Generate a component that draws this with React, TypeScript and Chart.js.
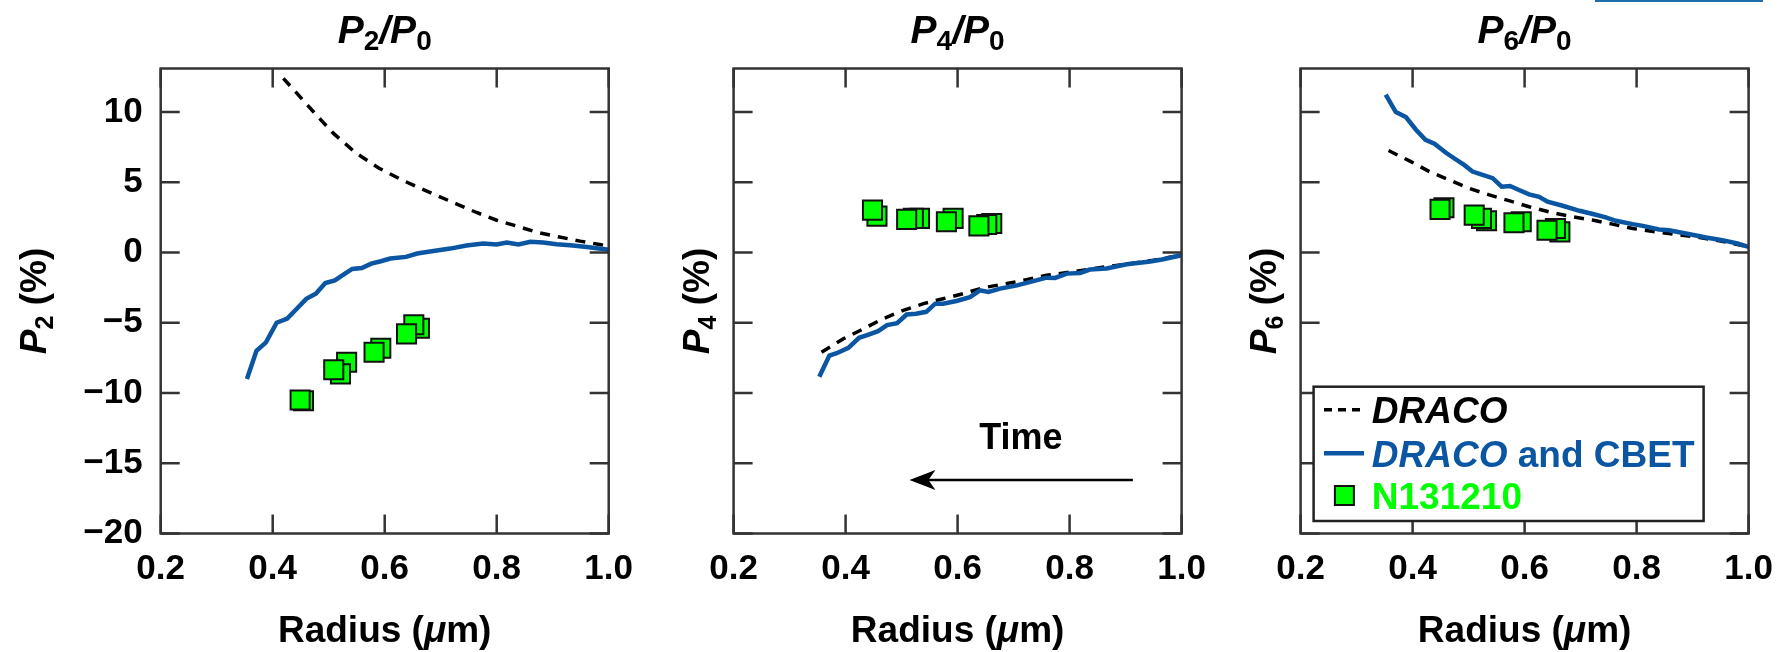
import React, { useEffect, useRef } from 'react';
import { Chart, registerables } from 'chart.js';

Chart.register(...registerables);

// ---------- axis ticks ----------
const xTickValues = [0.2, 0.4, 0.6, 0.8, 1.0];
const yTickValues = [-20, -15, -10, -5, 0, 5, 10];
const xMin = 0.2;
const xMax = 1.0;
const yMin = -20;
const yMax = 13.1;

// ---------- P2/P0 ----------
const p2DracoR = [0.419, 0.453, 0.48, 0.508, 0.549, 0.59, 0.631, 0.685, 0.733, 0.764, 0.8, 0.836, 0.874, 0.91, 0.949, 0.984, 1.0];
const p2DracoP = [12.4, 10.9, 9.7, 8.5, 7.07, 6.0, 5.16, 4.2, 3.38, 2.85, 2.3, 1.88, 1.42, 1.12, 0.81, 0.57, 0.45];
const p2CbetR = [0.354, 0.371, 0.388, 0.407, 0.426, 0.443, 0.46, 0.477, 0.494, 0.511, 0.527, 0.542, 0.559, 0.576, 0.593, 0.61, 0.638, 0.658, 0.681, 0.717, 0.746, 0.776, 0.8, 0.818, 0.839, 0.86, 0.883, 0.907, 0.931, 0.961, 1.0];
const p2CbetP = [-9.0, -7.0, -6.4, -5.0, -4.7, -4.0, -3.3, -2.93, -2.17, -1.98, -1.55, -1.17, -1.1, -0.79, -0.62, -0.43, -0.31, -0.07, 0.08, 0.28, 0.5, 0.64, 0.57, 0.71, 0.57, 0.76, 0.71, 0.59, 0.52, 0.4, 0.2];
const p2MeasR = [0.662, 0.652, 0.639, 0.593, 0.581, 0.532, 0.521, 0.509, 0.455, 0.449];
const p2MeasP = [-5.39, -5.14, -5.79, -6.81, -7.1, -7.81, -8.64, -8.34, -10.55, -10.5];

// ---------- P4/P0 ----------
const p4DracoR = [0.357, 0.396, 0.432, 0.467, 0.503, 0.539, 0.574, 0.61, 0.646, 0.688, 0.723, 0.759, 0.8, 0.836, 0.872, 0.91, 0.95, 1.0];
const p4DracoP = [-7.1, -6.14, -5.43, -4.71, -4.12, -3.64, -3.29, -2.93, -2.5, -2.21, -1.93, -1.62, -1.4, -1.18, -0.98, -0.78, -0.55, -0.19];
const p4CbetR = [0.353, 0.371, 0.384, 0.405, 0.424, 0.441, 0.458, 0.474, 0.492, 0.509, 0.526, 0.544, 0.56, 0.574, 0.598, 0.622, 0.64, 0.655, 0.676, 0.706, 0.735, 0.759, 0.774, 0.795, 0.819, 0.836, 0.866, 0.902, 0.944, 0.965, 1.0];
const p4CbetP = [-8.84, -7.34, -7.17, -6.79, -6.07, -5.84, -5.6, -5.17, -5.03, -4.41, -4.36, -4.22, -3.64, -3.64, -3.45, -3.17, -2.69, -2.81, -2.57, -2.34, -2.03, -1.79, -1.81, -1.5, -1.45, -1.21, -1.14, -0.84, -0.64, -0.5, -0.19];
const p4MeasR = [0.661, 0.652, 0.638, 0.592, 0.58, 0.532, 0.521, 0.509, 0.456, 0.448];
const p4MeasP = [2.07, 2.0, 1.9, 2.43, 2.19, 2.43, 2.43, 2.36, 2.59, 3.02];

// ---------- P6/P0 ----------
const p6DracoR = [0.357, 0.397, 0.43, 0.465, 0.501, 0.537, 0.572, 0.608, 0.65, 0.685, 0.721, 0.757, 0.793, 0.835, 0.87, 0.91, 0.95, 1.0];
const p6DracoP = [7.26, 6.47, 5.76, 5.17, 4.57, 4.1, 3.69, 3.26, 2.83, 2.55, 2.31, 2.02, 1.71, 1.47, 1.29, 1.08, 0.82, 0.4];
const p6CbetR = [0.352, 0.37, 0.388, 0.406, 0.423, 0.439, 0.459, 0.474, 0.492, 0.507, 0.525, 0.543, 0.559, 0.574, 0.59, 0.608, 0.626, 0.641, 0.668, 0.698, 0.722, 0.745, 0.763, 0.793, 0.811, 0.84, 0.858, 0.888, 0.924, 0.953, 0.98, 1.0];
const p6CbetP = [11.24, 10.0, 9.64, 8.74, 8.02, 7.74, 7.12, 6.71, 6.24, 5.76, 5.52, 5.29, 4.69, 4.74, 4.45, 4.14, 3.97, 3.62, 3.33, 2.97, 2.74, 2.5, 2.26, 2.02, 1.9, 1.64, 1.59, 1.36, 1.07, 0.88, 0.64, 0.4];
const p6MeasR = [0.663, 0.655, 0.64, 0.594, 0.581, 0.532, 0.523, 0.51, 0.456, 0.449];
const p6MeasP = [1.47, 1.71, 1.59, 2.19, 2.12, 2.26, 2.43, 2.66, 3.19, 3.07];

// ---------- annotation (panel P4) ----------
const timeLabel = 'Time';
const timeLabelR = 0.713;
const timeLabelP = -13.1;
const arrowFromR = 0.913;
const arrowToR = 0.514;
const arrowP = -16.2;

// ---------- text ----------
const xAxisTitle = [{ t: 'Radius (' }, { t: 'μ', italic: true }, { t: 'm)' }];
const seriesDraco = 'DRACO';
const seriesCbet = 'DRACO and CBET';
const seriesMeas = 'N131210';

// ---------- styles ----------
const BLUE = '#0b56a3';
const GREEN = '#00ff00';
const FRAME = '#333333';
const FONT = '"Liberation Sans", Arial, Helvetica, sans-serif';
const W = 1787;
const H = 652;
const PANEL_W = 448;
const TOP = 68.5;
const BOTTOM = 533.5;
const TICK_LEN = 19;

type Seg = { t: string; italic?: boolean; sub?: boolean; color?: string };

function segFont(s: Seg, size: number, subRatio: number) {
  const sz = s.sub ? Math.round(size * subRatio) : size;
  return `${s.italic ? 'italic ' : ''}bold ${sz}px ${FONT}`;
}
function measureRich(ctx: CanvasRenderingContext2D, segs: Seg[], size: number, subRatio: number) {
  let w = 0;
  for (const s of segs) {
    ctx.font = segFont(s, size, subRatio);
    w += ctx.measureText(s.t).width;
  }
  return w;
}
function drawRich(
  ctx: CanvasRenderingContext2D,
  segs: Seg[],
  x: number,
  y: number,
  size: number,
  align: 'left' | 'center',
  color: string,
  subRatio = 0.68,
  subShift = 7.3
) {
  const w = measureRich(ctx, segs, size, subRatio);
  let cx = align === 'center' ? x - w / 2 : x;
  ctx.textAlign = 'left';
  ctx.textBaseline = 'alphabetic';
  for (const s of segs) {
    ctx.font = segFont(s, size, subRatio);
    ctx.fillStyle = s.color || color;
    ctx.fillText(s.t, cx, y + (s.sub ? subShift : 0));
    cx += ctx.measureText(s.t).width;
  }
}

type PanelDef = {
  n: string;
  left: number;
  dracoR: number[];
  dracoP: number[];
  cbetR: number[];
  cbetP: number[];
  measR: number[];
  measP: number[];
  showYLabels: boolean;
  yTitleGap: number;
  legend: boolean;
  time: boolean;
};

const panels: PanelDef[] = [
  { n: '2', left: 160.7, dracoR: p2DracoR, dracoP: p2DracoP, cbetR: p2CbetR, cbetP: p2CbetP, measR: p2MeasR, measP: p2MeasP, showYLabels: true, yTitleGap: 114.7, legend: false, time: false },
  { n: '4', left: 733.6, dracoR: p4DracoR, dracoP: p4DracoP, cbetR: p4CbetR, cbetP: p4CbetP, measR: p4MeasR, measP: p4MeasP, showYLabels: false, yTitleGap: 24.6, legend: false, time: true },
  { n: '6', left: 1300.6, dracoR: p6DracoR, dracoP: p6DracoP, cbetR: p6CbetR, cbetP: p6CbetP, measR: p6MeasR, measP: p6MeasP, showYLabels: false, yTitleGap: 24.6, legend: true, time: false },
];

const zip = (xs: number[], ys: number[]) => xs.map((x, i) => ({ x, y: ys[i] }));

function makeDecorPlugin(p: PanelDef) {
  return {
    id: 'decor' + p.n,
    afterDatasetsDraw(chart: any) {
      const ctx: CanvasRenderingContext2D = chart.ctx;
      const ca = chart.chartArea;
      const xs = chart.scales.x;
      const ys = chart.scales.y;
      ctx.save();
      // frame
      ctx.strokeStyle = FRAME;
      ctx.lineWidth = 2.5;
      ctx.strokeRect(ca.left, ca.top, ca.right - ca.left, ca.bottom - ca.top);
      // inside ticks
      ctx.beginPath();
      for (const t of ys.ticks) {
        const py = ys.getPixelForValue(t.value);
        ctx.moveTo(ca.left, py);
        ctx.lineTo(ca.left + TICK_LEN, py);
        ctx.moveTo(ca.right, py);
        ctx.lineTo(ca.right - TICK_LEN, py);
      }
      for (const t of xs.ticks) {
        const px = xs.getPixelForValue(t.value);
        ctx.moveTo(px, ca.bottom);
        ctx.lineTo(px, ca.bottom - TICK_LEN);
        ctx.moveTo(px, ca.top);
        ctx.lineTo(px, ca.top + TICK_LEN);
      }
      ctx.stroke();

      const cx = (ca.left + ca.right) / 2;
      const cy = (ca.top + ca.bottom) / 2;
      // panel title
      drawRich(
        ctx,
        [{ t: 'P', italic: true }, { t: p.n, sub: true }, { t: '/', italic: true }, { t: 'P', italic: true }, { t: '0', sub: true }],
        cx,
        42.7,
        39,
        'center',
        '#000',
        0.72,
        7.5
      );
      // x title
      drawRich(ctx, xAxisTitle, cx, 641.7, 37, 'center', '#000');
      // y title (rotated)
      ctx.save();
      ctx.translate(ca.left - p.yTitleGap, cy);
      ctx.rotate(-Math.PI / 2);
      drawRich(ctx, [{ t: 'P', italic: true }, { t: p.n, sub: true }, { t: ' (%)' }], 0, 0, 37, 'center', '#000');
      ctx.restore();

      if (p.time) {
        const tx = xs.getPixelForValue(timeLabelR);
        const ty = ys.getPixelForValue(timeLabelP);
        ctx.font = `bold 36px ${FONT}`;
        ctx.fillStyle = '#000';
        ctx.textAlign = 'center';
        ctx.textBaseline = 'alphabetic';
        ctx.fillText(timeLabel, tx, ty + 12.9);
        const ax0 = xs.getPixelForValue(arrowFromR);
        const ax1 = xs.getPixelForValue(arrowToR);
        const ay = ys.getPixelForValue(arrowP);
        ctx.strokeStyle = '#000';
        ctx.lineWidth = 2.5;
        ctx.beginPath();
        ctx.moveTo(ax0, ay);
        ctx.lineTo(ax1 + 18, ay);
        ctx.stroke();
        ctx.fillStyle = '#000';
        ctx.beginPath();
        ctx.moveTo(ax1, ay);
        ctx.lineTo(ax1 + 26, ay - 10);
        ctx.lineTo(ax1 + 19, ay);
        ctx.lineTo(ax1 + 26, ay + 10);
        ctx.closePath();
        ctx.fill();
      }

      if (p.legend) {
        const lw = 390;
        const lh = 134.3;
        const lx = ca.left + 13;
        const ly = ca.bottom - 12.5 - lh;
        ctx.fillStyle = '#fff';
        ctx.fillRect(lx, ly, lw, lh);
        ctx.strokeStyle = '#222';
        ctx.lineWidth = 2.5;
        ctx.strokeRect(lx, ly, lw, lh);
        const rows = [ly + 23, ly + 66.6, ly + 108.8];
        const sx0 = lx + 10.4;
        const sx1 = lx + 50.4;
        const tx = lx + 58.2;
        const base = 0.358 * 37;
        // row 1
        ctx.strokeStyle = '#000';
        ctx.lineWidth = 3.5;
        ctx.setLineDash([8, 6]);
        ctx.beginPath();
        ctx.moveTo(sx0, rows[0]);
        ctx.lineTo(sx1, rows[0]);
        ctx.stroke();
        ctx.setLineDash([]);
        drawRich(ctx, [{ t: seriesDraco, italic: true }], tx, rows[0] + base, 37, 'left', '#000');
        // row 2
        ctx.strokeStyle = BLUE;
        ctx.lineWidth = 4.5;
        ctx.beginPath();
        ctx.moveTo(sx0, rows[1]);
        ctx.lineTo(sx1, rows[1]);
        ctx.stroke();
        const cbetParts = seriesCbet.split(' ');
        drawRich(ctx, [{ t: cbetParts[0], italic: true }, { t: ' ' + cbetParts.slice(1).join(' ') }], tx, rows[1] + base, 37, 'left', BLUE);
        // row 3
        const mx = lx + 30.8;
        ctx.fillStyle = GREEN;
        ctx.fillRect(mx - 9.5, rows[2] - 9.5, 19, 19);
        ctx.strokeStyle = '#111';
        ctx.lineWidth = 2;
        ctx.strokeRect(mx - 9.5, rows[2] - 9.5, 19, 19);
        drawRich(ctx, [{ t: seriesMeas }], tx, rows[2] + base, 37, 'left', GREEN);
      }
      ctx.restore();
    },
  };
}

function PanelChart({ p }: { p: PanelDef }) {
  const ref = useRef<HTMLCanvasElement>(null);
  const cl = Math.floor(p.left) - 170;
  const cw = 170 + PANEL_W + 46;
  useEffect(() => {
    const yW = 100;
    const pl = p.left - cl - yW;
    const pr = cw - (p.left + PANEL_W - cl);
    const tickFont = { family: FONT, size: 35, weight: 'bold' as const };
    const chart = new Chart(ref.current as HTMLCanvasElement, {
      type: 'scatter',
      data: {
        datasets: [
          {
            label: seriesMeas,
            data: zip(p.measR, p.measP),
            showLine: false,
            pointStyle: 'rect',
            pointRadius: 13.5,
            pointBackgroundColor: GREEN,
            pointBorderColor: '#111',
            pointBorderWidth: 2,
            order: 0,
          },
          {
            label: seriesCbet,
            data: zip(p.cbetR, p.cbetP),
            showLine: true,
            borderColor: BLUE,
            borderWidth: 4.5,
            pointRadius: 0,
            tension: 0,
            fill: false,
            order: 1,
          },
          {
            label: seriesDraco,
            data: zip(p.dracoR, p.dracoP),
            showLine: true,
            borderColor: '#000',
            borderWidth: 3.5,
            borderDash: [10, 8],
            pointRadius: 0,
            tension: 0,
            fill: false,
            order: 2,
          },
        ] as any,
      },
      options: {
        responsive: false,
        animation: false,
        devicePixelRatio: 1,
        events: [],
        layout: { padding: { left: pl, right: pr, top: TOP, bottom: 0 } },
        plugins: { legend: { display: false }, tooltip: { enabled: false }, title: { display: false } },
        scales: {
          x: {
            type: 'linear',
            min: xMin,
            max: xMax,
            afterBuildTicks: (s: any) => {
              s.ticks = xTickValues.map((v) => ({ value: v }));
            },
            afterFit: (s: any) => {
              s.height = H - BOTTOM;
            },
            grid: { display: false, drawTicks: false },
            border: { display: false },
            ticks: {
              font: tickFont,
              color: '#000',
              padding: 15,
              maxRotation: 0,
              autoSkip: false,
              callback: (v: any) => Number(v).toFixed(1),
            },
          },
          y: {
            type: 'linear',
            min: yMin,
            max: yMax,
            afterBuildTicks: (s: any) => {
              s.ticks = yTickValues.map((v) => ({ value: v }));
            },
            afterFit: (s: any) => {
              s.width = yW;
            },
            grid: { display: false, drawTicks: false },
            border: { display: false },
            ticks: {
              display: p.showYLabels,
              font: tickFont,
              color: '#000',
              padding: 18,
              callback: (v: any) => (Number(v) < 0 ? '\u2212' + Math.abs(Number(v)) : String(v)),
            },
          },
        },
      } as any,
      plugins: [makeDecorPlugin(p)],
    });
    return () => chart.destroy();
  }, []);
  return (
    <canvas
      ref={ref}
      width={cw}
      height={H}
      style={{ position: 'absolute', left: cl, top: 0, width: cw, height: H, display: 'block' }}
    />
  );
}

export default function App() {
  return (
    <div style={{ position: 'absolute', left: 0, top: 0, width: W, height: H, overflow: 'hidden', background: '#fff' }}>
      {panels.map((p) => (
        <PanelChart key={p.n} p={p} />
      ))}
      <div style={{ position: 'absolute', left: 1595, top: 0, width: 168, height: 2, background: '#1f6fae' }} />
    </div>
  );
}
